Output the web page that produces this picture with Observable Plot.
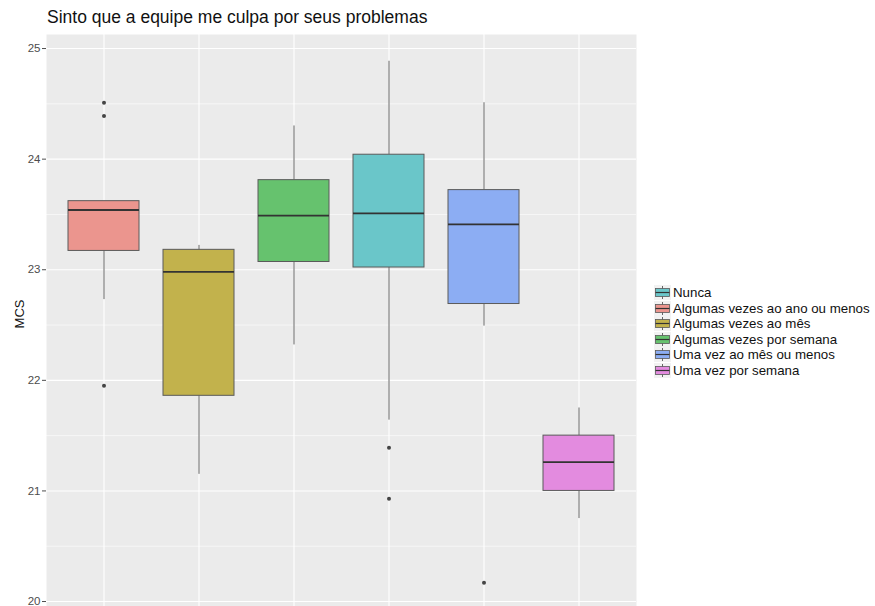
<!DOCTYPE html>
<html><head><meta charset="utf-8">
<script src="https://cdn.jsdelivr.net/npm/d3@7"></script>
<script src="https://cdn.jsdelivr.net/npm/@observablehq/plot@0.6"></script>
<style>
body{margin:0;background:#fff;font-family:"Liberation Sans",Arial,sans-serif;}
#wrap{position:relative;width:875px;height:606px;overflow:hidden;}
#title{position:absolute;left:47px;top:7px;font-size:17.5px;color:#111;white-space:nowrap;}
#ylab{position:absolute;left:19px;top:314px;font-size:13px;color:#111;transform:translate(-50%,-50%) rotate(-90deg);white-space:nowrap;}
#legend{position:absolute;left:654px;top:285px;font-size:13.3px;color:#111;}
.row{display:flex;align-items:center;height:15.5px;}
.row svg{margin-right:2px;}
#chart{position:absolute;left:0;top:0;}
</style></head><body>
<div id="wrap"><div id="chart"></div><div id="title">Sinto que a equipe me culpa por seus problemas</div><div id="ylab">MCS</div><div id="legend"></div></div>
<script>
const categories = ["Algumas vezes ao ano ou menos","Algumas vezes ao mês","Algumas vezes por semana","Nunca","Uma vez ao mês ou menos","Uma vez por semana"];
const legendOrder = ["Nunca","Algumas vezes ao ano ou menos","Algumas vezes ao mês","Algumas vezes por semana","Uma vez ao mês ou menos","Uma vez por semana"];
const colors = ["#EB958E","#C2B24C","#66C26E","#6AC6C9","#8CADF3","#E38BDF"];
const whiskerLow  = [22.73, 21.15, 22.32, 21.64, 22.49, 20.75];
const q1          = [23.17, 21.86, 23.07, 23.02, 22.69, 21.00];
const median      = [23.54, 22.98, 23.49, 23.51, 23.41, 21.26];
const q3          = [23.62, 23.18, 23.81, 24.04, 23.72, 21.50];
const whiskerHigh = [23.62, 23.22, 24.30, 24.885, 24.51, 21.75];
const outlierCat = ["Algumas vezes ao ano ou menos","Algumas vezes ao ano ou menos","Algumas vezes ao ano ou menos","Nunca","Nunca","Uma vez ao mês ou menos"];
const outlierVal = [24.51, 24.39, 21.95, 21.39, 20.93, 20.17];
const yTicks = [20,21,22,23,24,25];
const yMinor = [20.5,21.5,22.5,23.5,24.5];

const boxes = categories.map((c,i)=>({cat:c, lo:whiskerLow[i], q1:q1[i], med:median[i], q3:q3[i], hi:whiskerHigh[i]}));
const outliers = outlierCat.map((c,i)=>({cat:c, v:outlierVal[i]}));

const chart = Plot.plot({
  width: 875, height: 606,
  marginLeft: 46, marginRight: 239, marginTop: 34, marginBottom: 0,
  style: {fontFamily: '"Liberation Sans", Arial, sans-serif', background: "transparent"},
  x: {type: "band", domain: categories, paddingInner: 0.25, paddingOuter: 0.225, axis: null},
  y: {domain: [19.955, 25.127]},
  color: {domain: categories, range: colors},
  marks: [
    Plot.frame({fill: "#EBEBEB", stroke: "none"}),
    Plot.ruleY(yMinor, {stroke: "#FFFFFF", strokeWidth: 0.6}),
    Plot.ruleY(yTicks, {stroke: "#FFFFFF", strokeWidth: 1.1}),
    Plot.ruleX(categories, {x: d=>d, stroke: "#FFFFFF", strokeWidth: 1.1}),
    Plot.ruleX(boxes, {x: "cat", y1: "lo", y2: "q1", stroke: "#666", strokeWidth: 1}),
    Plot.ruleX(boxes, {x: "cat", y1: "q3", y2: "hi", stroke: "#666", strokeWidth: 1}),
    Plot.barY(boxes, {x: "cat", y1: "q1", y2: "q3", fill: "cat", stroke: "#5A5A5A", strokeWidth: 1}),
    Plot.tickY(boxes, {x: "cat", y: "med", stroke: "#333", strokeWidth: 1.8}),
    Plot.dot(outliers, {x: "cat", y: "v", r: 2, fill: "#444", stroke: "none"}),
    Plot.axisY(yTicks, {tickSize: 4, tickPadding: 2, fontSize: 11.5, color: "#4D4D4D", tickFormat: d => String(d), label: null})
  ]
});
document.getElementById("chart").appendChild(chart);

const leg = document.getElementById("legend");
legendOrder.forEach(name => {
  const col = colors[categories.indexOf(name)];
  const row = document.createElement("div");
  row.className = "row";
  row.innerHTML = `<svg width="17" height="15"><rect x="0" y="0" width="17" height="15" fill="#F2F2F2"/>
    <line x1="8.5" x2="8.5" y1="1" y2="14" stroke="#666" stroke-width="1"/>
    <rect x="1.5" y="3.5" width="14" height="8" fill="${col}" stroke="#5A5A5A" stroke-width="0.8"/>
    <line x1="1.5" x2="15.5" y1="7.5" y2="7.5" stroke="#333" stroke-width="1.2"/></svg><span>${name}</span>`;
  leg.appendChild(row);
});
</script>
</body></html>
